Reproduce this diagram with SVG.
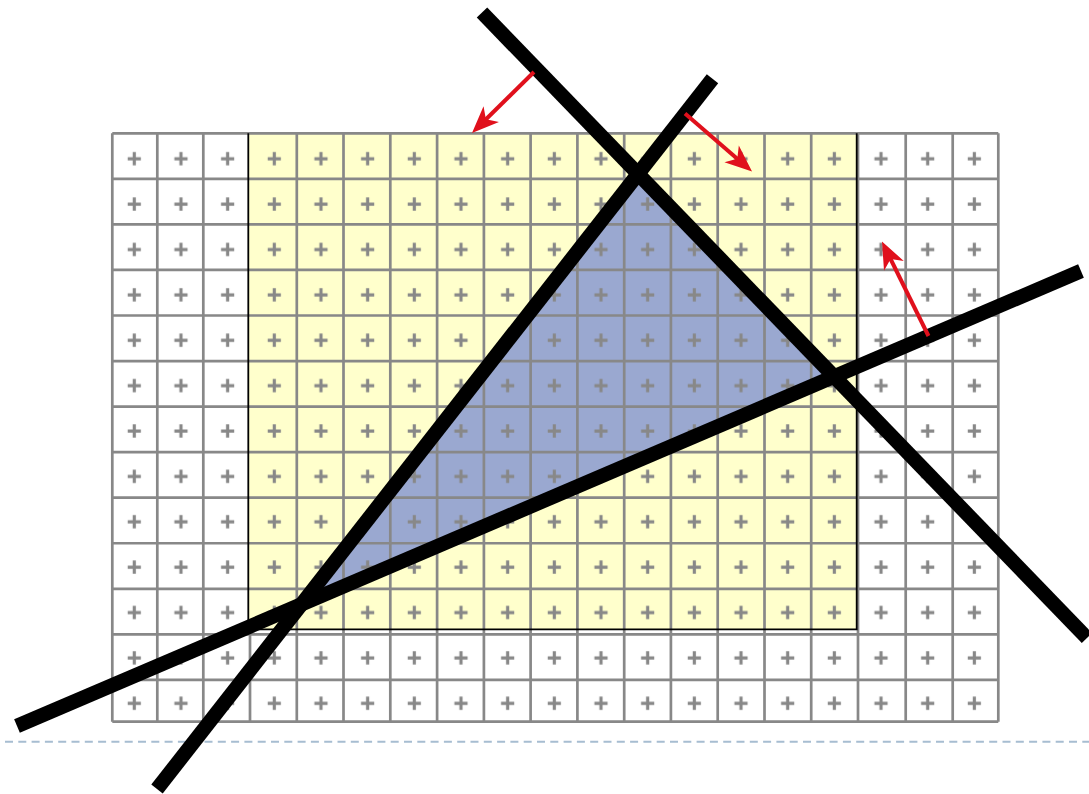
<svg xmlns="http://www.w3.org/2000/svg" width="1089" height="794" viewBox="0 0 1089 794">
<style>
.grid{fill:none;stroke:#888888;stroke-width:2.7}
.border{fill:none;stroke:#000000;stroke-width:1.8}
.bar{stroke:#000000;stroke-width:14.5;stroke-linecap:butt;fill:none}
.arrow{stroke:#e0101c;stroke-width:4;fill:none;marker-end:url(#ah)}
.dash{stroke:#a7bdd1;stroke-width:2;stroke-dasharray:8 5.3;fill:none}
</style>
<defs>
<pattern id="plus" patternUnits="userSpaceOnUse" x="111" y="136" width="46.67" height="45.38">
<path d="M16.7,22.7h13.2M23.3,16.1v13.2" stroke="#888888" stroke-width="3.2" fill="none"/>
</pattern>
<marker id="ah" markerUnits="userSpaceOnUse" markerWidth="31" markerHeight="26" viewBox="-28 -13 31 26" refX="-15" refY="0" orient="auto">
<path d="M0,0L-27,-11L-19.5,0L-27,11Z" fill="#e0101c"/>
</marker>
</defs>
<rect x="0" y="0" width="1089" height="794" fill="#ffffff"/>
<g id="region">
<rect x="248.3" y="133.3" width="608.4" height="496" fill="#ffffcc"/>
<polygon id="triangle" points="638.5,173.1 301.2,604.5 834.6,376.4" fill="#9aa8d0"/>
</g>
<g id="grid">
<path class="grid" d="M112.3,133.3V721.7M157.3,133.3V721.7M203.3,133.3V721.7M250,629.3V721.7M296.8,133.3V721.7M343.5,133.3V721.7M390.3,133.3V721.7M437.1,133.3V721.7M483.9,133.3V721.7M530.6,133.3V721.7M577.4,133.3V721.7M624.2,133.3V721.7M670.9,133.3V721.7M717.7,133.3V721.7M764.5,133.3V721.7M811.2,133.3V721.7M858,133.3V721.7M905.7,133.3V721.7M952.7,133.3V721.7M998.3,133.3V721.7M112.3,133.3H998.3M112.3,178.85H998.3M112.3,224.4H998.3M112.3,269.95H998.3M112.3,315.5H998.3M112.3,361.05H998.3M112.3,406.6H998.3M112.3,452.15H998.3M112.3,497.7H998.3M112.3,543.25H998.3M112.3,588.8H998.3M112.3,634.35H998.3M112.3,679.9H998.3M112.3,721.7H998.3"/>
<path class="border" d="M248.3,133.3V629.3H856.7V133.3"/>
<rect x="111" y="136" width="888" height="585" fill="url(#plus)"/>
</g>
<line id="baseline" class="dash" x1="5" y1="741.7" x2="1089" y2="741.7"/>
<g id="lines">
<line id="line-a" class="bar" x1="157" y1="789" x2="712.5" y2="78.7"/>
<line id="line-b" class="bar" x1="482" y1="12.5" x2="1087" y2="638"/>
<line id="line-c" class="bar" x1="17" y1="726" x2="1081" y2="271"/>
</g>
<g id="connectors">
<line class="arrow" x1="534" y1="72" x2="482.7" y2="122.5"/>
<line class="arrow" x1="685" y1="113.5" x2="740.7" y2="161.7"/>
<line class="arrow" x1="928.5" y1="336" x2="888.6" y2="255"/>
</g>
</svg>
